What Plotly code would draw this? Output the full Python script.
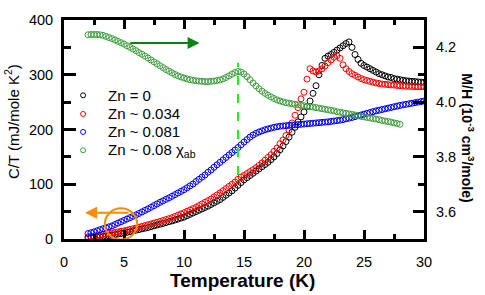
import plotly.graph_objects as go

# Temperature grid (K)
T = [2.0, 2.25, 2.5, 2.75, 3.0, 3.25, 3.5, 3.75, 4.0, 4.25, 4.5, 4.75,
     5.0, 5.25, 5.5, 5.75, 6.0, 6.25, 6.5, 6.75, 7.0, 7.25, 7.5, 7.75,
     8.0, 8.25, 8.5, 8.75, 9.0, 9.25, 9.5, 9.75, 10.0, 10.25, 10.5, 10.75,
     11.0, 11.25, 11.5, 11.75, 12.0, 12.25, 12.5, 12.75, 13.0, 13.25, 13.5, 13.75,
     14.0, 14.25, 14.5, 14.75, 15.0, 15.25, 15.5, 15.75, 16.0, 16.25, 16.5, 16.75,
     17.0, 17.25, 17.5, 17.75, 18.0, 18.25, 18.5, 18.75, 19.0, 19.25, 19.5, 19.75,
     20.0, 20.25, 20.5, 20.75, 21.0, 21.25, 21.5, 21.75, 22.0, 22.25, 22.5, 22.75,
     23.0, 23.25, 23.5, 23.75, 24.0, 24.25, 24.5, 24.75, 25.0, 25.25, 25.5, 25.75,
     26.0, 26.25, 26.5, 26.75, 27.0, 27.25, 27.5, 27.75, 28.0, 28.25, 28.5, 28.75,
     29.0, 29.25, 29.5, 29.75, 30.0]

# C/T (mJ/mole K^2), Zn = 0
ct_zn0 = [2, 2.5, 3, 3.5, 4, 4.7, 5.4, 6.2, 7, 8, 9, 10,
          11, 12.2, 13.4, 14.7, 16, 17.2, 18.5, 19.7, 21, 22.5, 24, 25.5,
          27, 28.5, 30, 31.5, 33, 34.7, 36.4, 38.2, 40, 42.5, 45, 47.5,
          50, 52.5, 55, 57.5, 60, 63, 66, 69, 72, 76, 80, 84,
          88, 93, 98, 103, 108, 112, 116, 120, 124, 128, 132, 136,
          140, 145, 150, 156, 163, 170, 178, 186, 195, 204, 214, 223,
          232, 242, 252, 266, 280, 300, 317, 330, 334, 337, 341, 345,
          349, 353, 357, 360, 350, 337, 328, 321, 317, 314, 311, 308,
          305, 302, 300, 298, 296, 295, 293, 292, 291, 290, 289, 288.5,
          288, 287.5, 287, 286.5, 286]

# C/T, Zn ~ 0.034
ct_zn034 = [4, 4.7, 5.4, 6.2, 7, 8, 9, 10, 11, 12, 13, 14,
            15, 16.2, 17.5, 18.7, 20, 21.5, 23, 24.5, 26, 27.5, 29, 30.5,
            32, 33.7, 35.5, 37.2, 39, 41.2, 43.5, 45.7, 48, 50.5, 53, 55.5,
            58, 61, 64, 67, 70, 73, 77, 80.5, 84, 88, 92, 96,
            100, 104, 109, 113, 116, 119.5, 123, 126.5, 130, 134.5, 139, 144,
            149, 154, 160, 166, 174, 181, 189, 199, 212, 226, 240, 256,
            268, 292, 311, 307, 305, 307, 311, 316, 322, 327, 332, 335,
            330, 318, 311, 306, 302, 299, 296, 293, 291, 289.5, 288, 286.5,
            285, 284, 283, 282.5, 282, 281.5, 281, 280.5, 280, 279.5, 279, 279,
            278.5, 278.5, 278, 278, 278]

# C/T, Zn ~ 0.081
ct_zn081 = [10, 11.5, 13, 15, 17, 18.7, 20.5, 22.2, 24, 26.5, 29, 31.5,
            34, 36.5, 39, 41.5, 44, 46.7, 49.5, 52.2, 55, 58, 61, 64,
            67, 69.7, 72.5, 75.2, 78, 81, 84, 87, 90, 93.5, 97, 100.5,
            105, 109, 113, 117, 122, 126, 131, 135.5, 140, 144.5, 149, 153.5,
            158, 162.5, 167, 172, 177, 181.5, 186, 190, 193, 195.5, 197.5, 199.5,
            201, 202.5, 204, 205, 206, 206.5, 207, 207.5, 208, 208.5, 209, 209.5,
            210, 210.5, 211, 211.5, 212, 212.5, 213, 213.5, 214, 214.7, 215.5, 216.2,
            217, 218, 219.5, 220.7, 222, 223.5, 225, 226.5, 228, 229.5, 231, 232.5,
            234, 235.2, 236.5, 237.7, 239, 240.2, 241.5, 242.7, 244, 245, 246, 247,
            248, 249, 250, 251, 252]

# M/H (10^-3 cm^3/mole), Zn ~ 0.08, chi_ab (2 K .. 28 K)
chi_ab = [4.246, 4.247, 4.247, 4.247, 4.246, 4.244, 4.240, 4.236,
          4.232, 4.227, 4.222, 4.217, 4.212, 4.206, 4.200, 4.194,
          4.188, 4.181, 4.175, 4.168, 4.161, 4.154, 4.147, 4.140,
          4.133, 4.126, 4.119, 4.113, 4.107, 4.101, 4.096, 4.092,
          4.088, 4.085, 4.082, 4.080, 4.078, 4.077, 4.076, 4.075,
          4.075, 4.076, 4.077, 4.079, 4.081, 4.085, 4.090, 4.096,
          4.102, 4.108, 4.112, 4.110, 4.103, 4.093, 4.082, 4.070,
          4.059, 4.049, 4.040, 4.032, 4.025, 4.019, 4.013, 4.008,
          4.004, 4.001, 3.998, 3.996, 3.994, 3.992, 3.990, 3.988,
          3.987, 3.985, 3.983, 3.982, 3.980, 3.978, 3.976, 3.974,
          3.972, 3.970, 3.968, 3.965, 3.963, 3.961, 3.959, 3.957,
          3.955, 3.953, 3.951, 3.948, 3.946, 3.944, 3.942, 3.940,
          3.938, 3.936, 3.933, 3.931, 3.929, 3.927, 3.924, 3.922,
          3.919]
T_chi = T[:len(chi_ab)]

names = ["Zn = 0", "Zn ~ 0.034", "Zn ~ 0.081", "Zn ~ 0.08 χ<sub>ab</sub>"]
colors = ["#000000", "#ff0000", "#0000ff", "#3f9f3f"]

FONT = "Arial, Liberation Sans, Helvetica, sans-serif"

fig = go.Figure()
for y, name, c in zip([ct_zn0, ct_zn034, ct_zn081], names[:3], colors[:3]):
    fig.add_trace(go.Scatter(x=T, y=y, mode="markers", name=name, showlegend=False,
                             marker=dict(symbol="circle-open", size=6, color=c,
                                         line=dict(width=1, color=c))))
fig.add_trace(go.Scatter(x=T_chi, y=chi_ab, mode="markers", name=names[3], yaxis="y2",
                         showlegend=False,
                         marker=dict(symbol="circle-open", size=6, color=colors[3],
                                     line=dict(width=1, color=colors[3]))))

# manual legend (marker circle + label), positioned in paper fractions
leg_y = [0.656, 0.571, 0.489, 0.405]
for yy, name, c in zip(leg_y, names, colors):
    fig.add_shape(type="circle", xref="paper", yref="paper",
                  xsizemode="pixel", ysizemode="pixel",
                  xanchor=0.053, yanchor=yy, x0=-2.5, x1=2.5, y0=-2.5, y1=2.5,
                  line=dict(color=c, width=1))
    fig.add_annotation(x=0.117, y=yy, xref="paper", yref="paper", showarrow=False,
                       xanchor="left", yanchor="middle", text=name,
                       font=dict(family=FONT, size=15, color="black"))

# dashed marker at ~14.5 K
fig.add_shape(type="line", xref="x", yref="y", x0=14.5, x1=14.5, y0=117, y1=322,
              line=dict(color="#22ee22", width=2, dash="dash"))
# orange circle
fig.add_shape(type="circle", xref="x", yref="y", x0=3.4, x1=6.1, y0=-1, y1=56,
              line=dict(color="#ff8c00", width=2))

# arrows
fig.add_annotation(x=11.3, y=4.216, xref="x", yref="y2", ax=5.4, ay=4.216,
                   axref="x", ayref="y2", showarrow=True, arrowhead=2, arrowsize=1.2,
                   arrowwidth=2, arrowcolor="#108010", text="")
fig.add_annotation(x=1.75, y=48, xref="x", yref="y", ax=5.5, ay=48,
                   axref="x", ayref="y", showarrow=True, arrowhead=2, arrowsize=1.2,
                   arrowwidth=2, arrowcolor="#ff8c00", text="")

# axis titles
fig.add_annotation(x=-0.144, y=0.535, xref="paper", yref="paper", showarrow=False,
                   xanchor="center", yanchor="middle",
                   text="C/T (mJ/mole K<sup>2</sup>)", textangle=-90,
                   font=dict(family=FONT, size=15, color="black"))
fig.add_annotation(x=1.122, y=0.46, xref="paper", yref="paper", showarrow=False,
                   xanchor="center", yanchor="middle",
                   text="<b>M/H (10<sup>-3</sup> cm<sup>3</sup>/mole)</b>", textangle=90,
                   font=dict(family=FONT, size=14, color="black"))
fig.add_annotation(x=0.497, y=-0.19, xref="paper", yref="paper", showarrow=False,
                   xanchor="center", yanchor="middle",
                   text="<b>Temperature (K)</b>",
                   font=dict(family=FONT, size=19, color="black"))

fig.update_layout(
    width=485, height=295,
    margin=dict(l=64, r=61, t=13, b=56),
    plot_bgcolor="white", paper_bgcolor="white",
    font=dict(family=FONT, size=14.5, color="black"),
    showlegend=False,
    xaxis=dict(range=[0, 30], dtick=5, tick0=0, showgrid=False, zeroline=False,
               showline=True, linewidth=3, linecolor="black", mirror="ticks",
               ticks="inside", ticklen=9, tickwidth=3, tickcolor="black",
               ticklabelstandoff=8,
               minor=dict(dtick=2.5, ticks="inside", ticklen=5, tickwidth=3,
                          tickcolor="black", showgrid=False)),
    yaxis=dict(range=[0, 400], dtick=100, tick0=0, showgrid=False, zeroline=False,
               showline=True, linewidth=3, linecolor="black",
               ticks="inside", ticklen=12, tickwidth=3, tickcolor="black",
               ticklabelstandoff=5,
               minor=dict(dtick=50, ticks="inside", ticklen=7, tickwidth=3,
                          tickcolor="black", showgrid=False)),
    yaxis2=dict(range=[3.5, 4.3], dtick=0.2, tick0=3.6, tickformat=".1f",
                overlaying="y", side="right", showgrid=False, zeroline=False,
                showline=True, linewidth=3, linecolor="black",
                ticks="inside", ticklen=11, tickwidth=3, tickcolor="black",
                ticklabelstandoff=6,
                minor=dict(dtick=0.1, ticks="inside", ticklen=6, tickwidth=3,
                           tickcolor="black", showgrid=False)),
)

# remove the page's default 8px body margin so the figure sits at the window origin
fig.write_html("out.html",
               config={"displayModeBar": False},
               post_script="document.body.style.margin='0px';document.body.style.overflow='hidden';")
